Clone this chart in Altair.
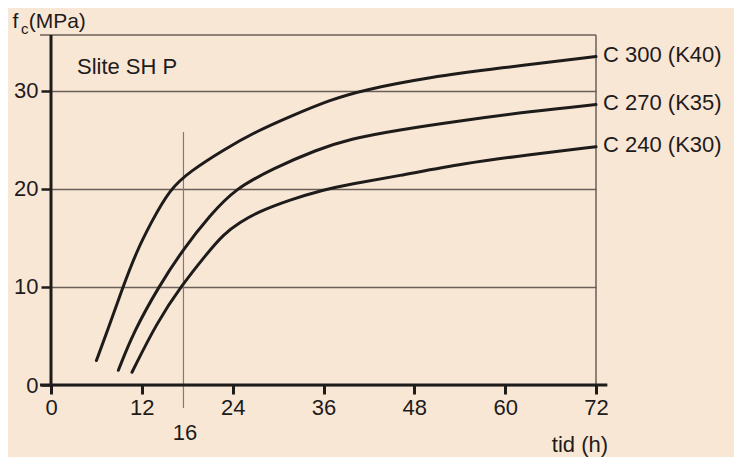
import altair as alt
import pandas as pd

# ---------------- data ----------------
series_names = ["C 300 (K40)", "C 270 (K35)", "C 240 (K30)"]

c300_hours = [6.0, 7.4, 9.5, 11.3, 13.1, 15.7, 18.4, 22.8, 27.2, 31.6, 36.9, 41.3, 50.1, 58.9, 72.0]
c300_mpa = [2.5, 5.4, 10.0, 13.6, 16.4, 20.0, 21.8, 24.0, 25.9, 27.4, 29.1, 30.1, 31.4, 32.3, 33.5]

c270_hours = [8.9, 10.9, 14.2, 17.5, 21.0, 24.3, 29.4, 35.1, 39.5, 45.7, 54.5, 63.3, 72.0]
c270_mpa = [1.5, 5.4, 10.0, 13.9, 17.3, 20.0, 22.1, 24.0, 25.1, 26.0, 27.0, 27.9, 28.6]

c240_hours = [10.7, 14.0, 17.3, 20.6, 22.8, 25.0, 27.2, 31.6, 36.0, 39.5, 45.7, 54.5, 63.3, 72.0]
c240_mpa = [1.3, 6.4, 10.2, 13.4, 15.4, 16.6, 17.6, 18.9, 19.9, 20.5, 21.3, 22.6, 23.5, 24.3]

x_ticks = [0, 12, 24, 36, 48, 60, 72]
y_ticks = [0, 10, 20, 30]
marker_hour = 17.5          # drawn position of the "16" marker line
marker_label = "16"
x_title = "tid (h)"
y_title_parts = ["f", "c", "(MPa)"]
panel_label = "Slite SH P"

# ---------------- styling ----------------
BG = "#F9E7D6"
INK = "#1E1B1B"
GRID = "#6A5F58"
THIN = "#857A72"
FONT = "Liberation Sans"
FS = 22

rows = []
for name, hs, vs in zip(series_names,
                        [c300_hours, c270_hours, c240_hours],
                        [c300_mpa, c270_mpa, c240_mpa]):
    for i, (h, v) in enumerate(zip(hs, vs)):
        rows.append({"series": name, "t": h, "v": v, "i": i})
df = pd.DataFrame(rows)
ends = df.loc[df.groupby("series")["i"].idxmax()].reset_index(drop=True)

xs = alt.Scale(domain=[0, 72], nice=False, zero=False)
ys = alt.Scale(domain=[0, 35.7], nice=False, zero=False)

x_axis = alt.Axis(
    values=x_ticks, title=None, grid=False, domain=False,
    tickSize=9, tickWidth=3, tickColor=INK,
    labelFontSize=FS, labelFont=FONT, labelColor=INK, labelPadding=3,
    labelFlush=False)
y_axis = alt.Axis(
    values=y_ticks, title=None, grid=True, gridColor=GRID, gridWidth=1.5,
    gridOpacity=1, domain=False, tickSize=10, tickWidth=2.5, tickColor=INK,
    labelFontSize=FS, labelFont=FONT, labelColor=INK, labelPadding=3)


def X(field):
    return alt.X(field, scale=xs, axis=x_axis)


def Y(field):
    return alt.Y(field, scale=ys, axis=y_axis)


def rule(x, x2, y, y2, width, color):
    d = pd.DataFrame({"x": [x], "x2": [x2], "y": [y], "y2": [y2]})
    return alt.Chart(d).mark_rule(strokeWidth=width, color=color).encode(
        x=X("x:Q"), x2="x2:Q", y=Y("y:Q"), y2="y2:Q",
    )


def text(x, y, s, size=FS, align="left"):
    d = pd.DataFrame({"x": [x], "y": [y], "s": [s]})
    return alt.Chart(d).mark_text(
        align=align, baseline="alphabetic", fontSize=size, font=FONT, color=INK
    ).encode(x=X("x:Q"), y=Y("y:Q"), text="s:N")


curves = alt.Chart(df).mark_line(
    interpolate="basis", strokeWidth=3, color=INK, strokeCap="round"
).encode(
    x=X("t:Q"),
    y=Y("v:Q"),
    detail="series:N",
    order="i:Q",
)

end_labels = alt.Chart(ends).mark_text(
    align="left", baseline="alphabetic", dx=7, dy=5.5, fontSize=FS, font=FONT, color=INK
).encode(
    x=X("t:Q"),
    y=Y("v:Q"),
    text="series:N",
)

chart = alt.layer(
    rule(-1.45, 72, 35.7, 35.7, 1.5, GRID),        # top frame
    rule(72, 72, 0, 35.7, 1.5, GRID),              # right frame
    rule(marker_hour, marker_hour, -2.35, 25.8, 1.2, THIN),
    curves,
    rule(-1.45, 73.5, 0, 0, 3, INK),               # x axis line
    rule(0, 0, 0, 35.7, 3, INK),                   # y axis line
    end_labels,
    text(-5.1, 36.40, y_title_parts[0], size=21),
    text(-3.95, 35.82, y_title_parts[1], size=15),
    text(-2.95, 36.40, y_title_parts[2], size=21),
    text(3.43, 31.72, panel_label),
    text(17.7, -5.61, marker_label, align="center"),
    text(73.59, -6.83, x_title, align="right"),
).properties(
    width=545,
    height=350,
    padding={"left": 43, "top": 27, "right": 138, "bottom": 72},
    autosize=alt.AutoSizeParams(type="none"),
    background=BG,
).configure_view(stroke=None)

chart.save("out.html", embed_options={"renderer": "svg", "actions": False})
